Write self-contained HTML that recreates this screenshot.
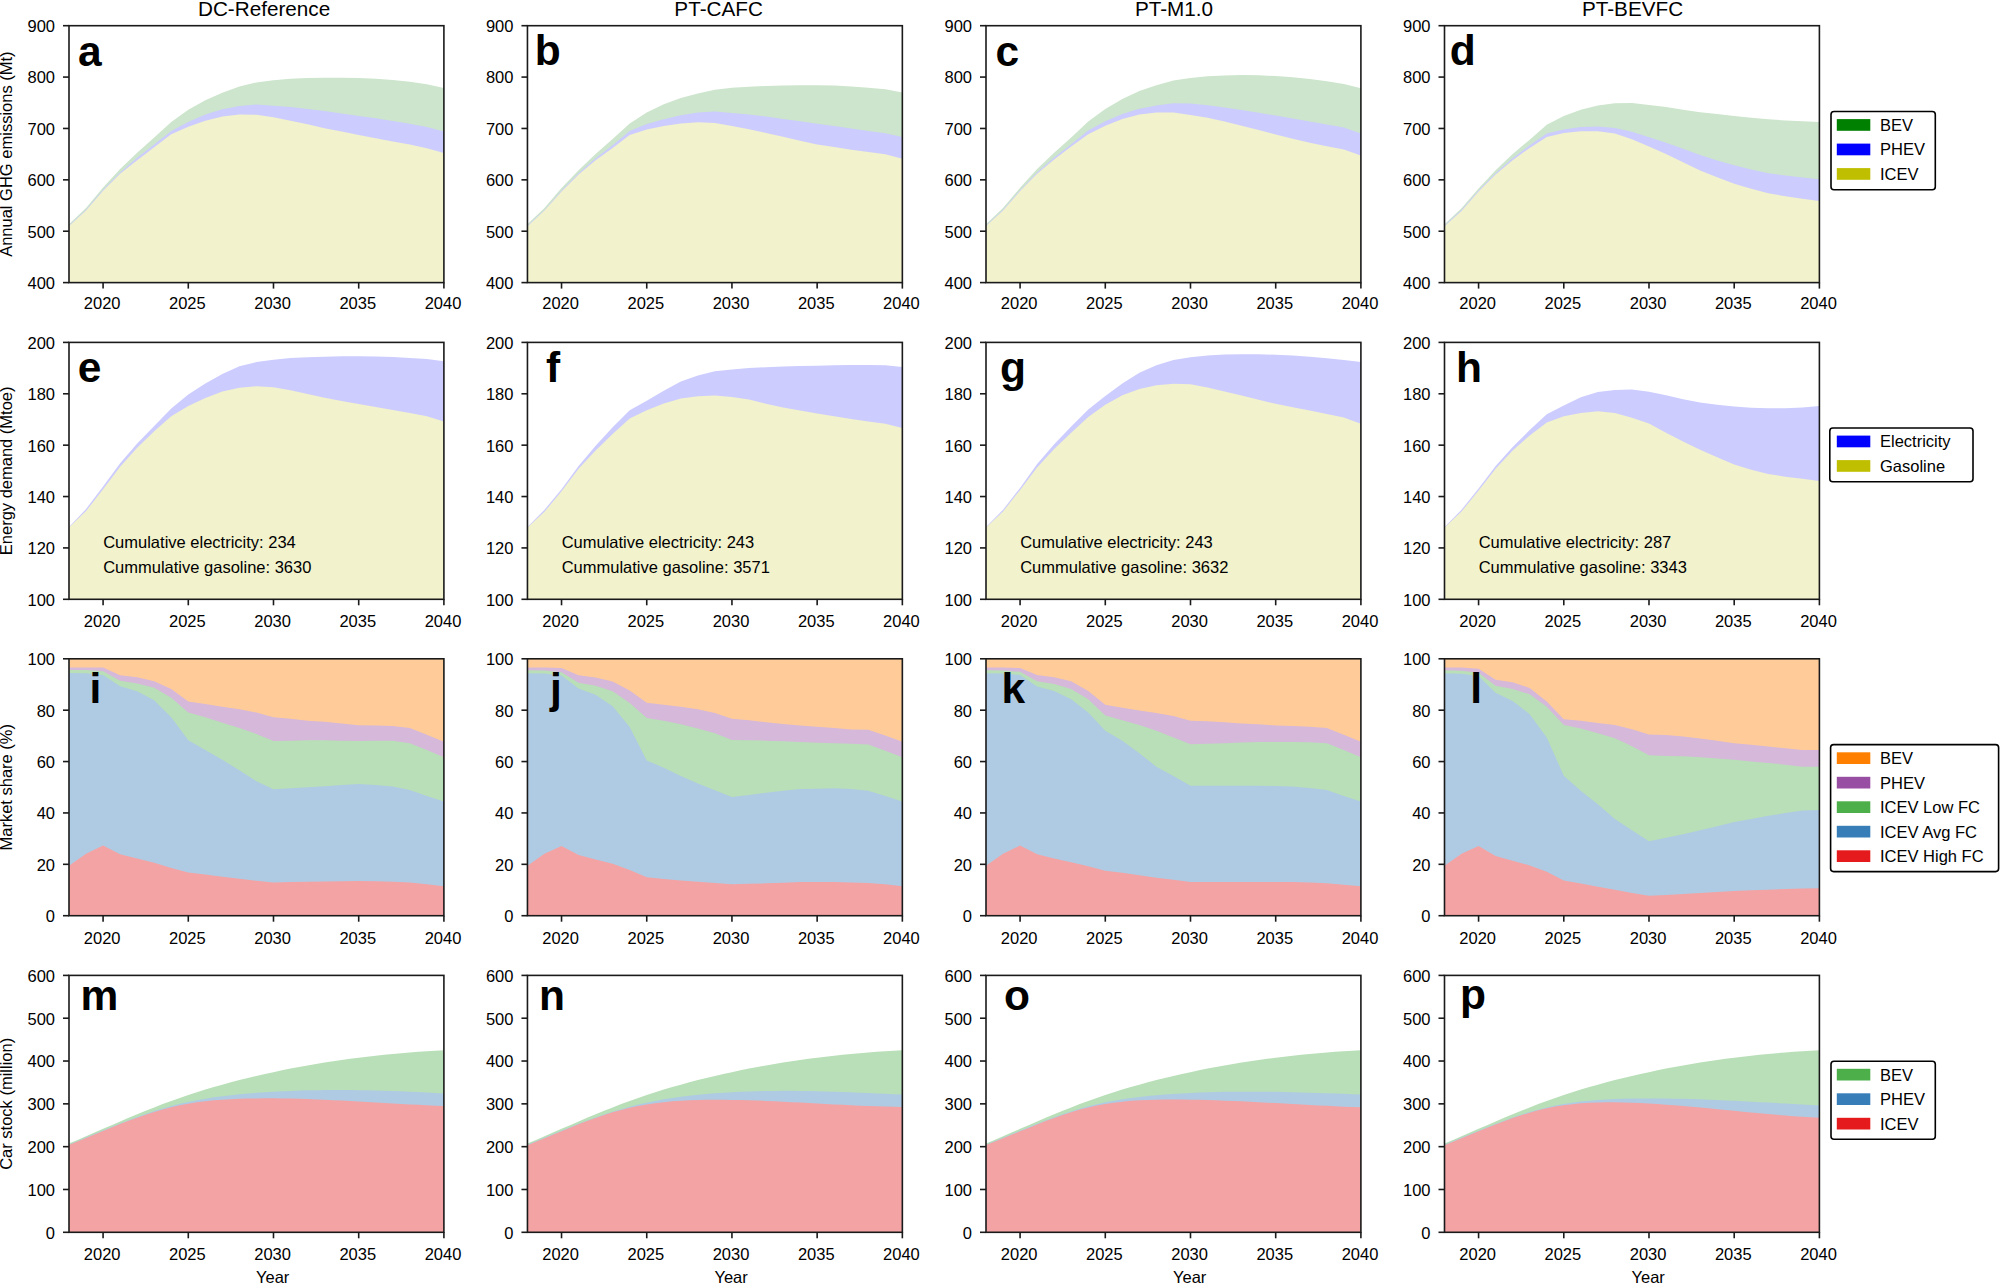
<!DOCTYPE html><html><head><meta charset="utf-8"><title>Figure</title><style>html,body{margin:0;padding:0;background:#fff;overflow:hidden;width:2000px;height:1284px;}svg{display:block;}text{font-family:'Liberation Sans', Arial, Helvetica, sans-serif;}</style></head><body>
<svg width="2000" height="1284" viewBox="0 0 2000 1284">
<rect width="2000" height="1284" fill="#fff"/>
<path d="M69,224.24 L86.04,207.88 L103.08,187.44 L120.12,169.04 L137.16,152.68 L154.2,137.42 L171.25,122.02 L188.29,109.75 L205.33,100.21 L222.37,92.71 L239.41,86.58 L256.45,82.49 L273.49,80.17 L290.53,78.81 L307.57,77.99 L324.61,77.72 L341.65,77.72 L358.7,77.99 L375.74,78.81 L392.78,80.04 L409.82,81.81 L426.86,84.26 L443.9,87.94 L443.9,282.6 L69,282.6 Z" fill="#cce5cc"/>
<path d="M69,225.6 L86.04,209.66 L103.08,189.76 L120.12,172.45 L137.16,157.86 L154.2,144.51 L171.25,130.88 L188.29,122.02 L205.33,114.52 L222.37,109.34 L239.41,106.07 L256.45,104.57 L273.49,105.66 L290.53,107.02 L307.57,109.07 L324.61,111.11 L341.65,113.43 L358.7,115.88 L375.74,118.34 L392.78,120.93 L409.82,123.79 L426.86,127.06 L443.9,131.56 L443.9,282.6 L69,282.6 Z" fill="#ccccff"/>
<path d="M69,226.01 L86.04,210.61 L103.08,190.85 L120.12,173.81 L137.16,160.18 L154.2,147.23 L171.25,134.28 L188.29,126.79 L205.33,120.65 L222.37,116.56 L239.41,114.52 L256.45,114.66 L273.49,117.25 L290.53,120.65 L307.57,124.33 L324.61,128.15 L341.65,131.56 L358.7,134.96 L375.74,138.37 L392.78,141.51 L409.82,144.51 L426.86,148.32 L443.9,153.09 L443.9,282.6 L69,282.6 Z" fill="#f2f2cc"/>
<rect x="69" y="25.7" width="374.9" height="256.9" fill="none" stroke="#1a1a1a" stroke-width="1.6"/>
<line x1="63" y1="282.6" x2="69" y2="282.6" stroke="#1a1a1a" stroke-width="1.6"/>
<text x="55" y="289" font-size="16.5" text-anchor="end">400</text>
<line x1="63" y1="231.22" x2="69" y2="231.22" stroke="#1a1a1a" stroke-width="1.6"/>
<text x="55" y="237.62" font-size="16.5" text-anchor="end">500</text>
<line x1="63" y1="179.84" x2="69" y2="179.84" stroke="#1a1a1a" stroke-width="1.6"/>
<text x="55" y="186.24" font-size="16.5" text-anchor="end">600</text>
<line x1="63" y1="128.46" x2="69" y2="128.46" stroke="#1a1a1a" stroke-width="1.6"/>
<text x="55" y="134.86" font-size="16.5" text-anchor="end">700</text>
<line x1="63" y1="77.08" x2="69" y2="77.08" stroke="#1a1a1a" stroke-width="1.6"/>
<text x="55" y="83.48" font-size="16.5" text-anchor="end">800</text>
<line x1="63" y1="25.7" x2="69" y2="25.7" stroke="#1a1a1a" stroke-width="1.6"/>
<text x="55" y="32.1" font-size="16.5" text-anchor="end">900</text>
<line x1="103.08" y1="282.6" x2="103.08" y2="288.6" stroke="#1a1a1a" stroke-width="1.6"/>
<text x="102.18" y="308.9" font-size="16.5" text-anchor="middle">2020</text>
<line x1="188.29" y1="282.6" x2="188.29" y2="288.6" stroke="#1a1a1a" stroke-width="1.6"/>
<text x="187.39" y="308.9" font-size="16.5" text-anchor="middle">2025</text>
<line x1="273.49" y1="282.6" x2="273.49" y2="288.6" stroke="#1a1a1a" stroke-width="1.6"/>
<text x="272.59" y="308.9" font-size="16.5" text-anchor="middle">2030</text>
<line x1="358.7" y1="282.6" x2="358.7" y2="288.6" stroke="#1a1a1a" stroke-width="1.6"/>
<text x="357.8" y="308.9" font-size="16.5" text-anchor="middle">2035</text>
<line x1="443.9" y1="282.6" x2="443.9" y2="288.6" stroke="#1a1a1a" stroke-width="1.6"/>
<text x="443" y="308.9" font-size="16.5" text-anchor="middle">2040</text>
<text x="78" y="65.5" font-size="42.5" font-weight="bold">a</text>
<path d="M527.45,224.24 L544.49,207.88 L561.53,188.12 L578.57,170.13 L595.61,154.05 L612.65,139.05 L629.7,123.38 L646.74,112.47 L663.78,104.3 L680.82,97.89 L697.86,93.39 L714.9,89.71 L731.94,87.67 L748.98,86.71 L766.02,86.03 L783.06,85.62 L800.1,85.35 L817.15,85.22 L834.19,85.62 L851.23,86.58 L868.27,87.67 L885.31,89.3 L902.35,92.44 L902.35,282.6 L527.45,282.6 Z" fill="#cce5cc"/>
<path d="M527.45,225.6 L544.49,209.93 L561.53,190.57 L578.57,173.13 L595.61,158.13 L612.65,145.19 L629.7,130.88 L646.74,124.06 L663.78,119.29 L680.82,115.2 L697.86,112.47 L714.9,111.52 L731.94,112.88 L748.98,114.38 L766.02,116.56 L783.06,118.88 L800.1,121.33 L817.15,123.65 L834.19,126.1 L851.23,128.42 L868.27,130.88 L885.31,133.33 L902.35,137.01 L902.35,282.6 L527.45,282.6 Z" fill="#ccccff"/>
<path d="M527.45,226.28 L544.49,210.61 L561.53,191.53 L578.57,174.49 L595.61,160.18 L612.65,147.91 L629.7,134.96 L646.74,129.51 L663.78,126.1 L680.82,123.38 L697.86,122.29 L714.9,122.97 L731.94,126.1 L748.98,129.24 L766.02,132.92 L783.06,136.74 L800.1,140.69 L817.15,144.51 L834.19,146.96 L851.23,149.68 L868.27,152 L885.31,154.32 L902.35,158.82 L902.35,282.6 L527.45,282.6 Z" fill="#f2f2cc"/>
<rect x="527.45" y="25.7" width="374.9" height="256.9" fill="none" stroke="#1a1a1a" stroke-width="1.6"/>
<line x1="521.45" y1="282.6" x2="527.45" y2="282.6" stroke="#1a1a1a" stroke-width="1.6"/>
<text x="513.45" y="289" font-size="16.5" text-anchor="end">400</text>
<line x1="521.45" y1="231.22" x2="527.45" y2="231.22" stroke="#1a1a1a" stroke-width="1.6"/>
<text x="513.45" y="237.62" font-size="16.5" text-anchor="end">500</text>
<line x1="521.45" y1="179.84" x2="527.45" y2="179.84" stroke="#1a1a1a" stroke-width="1.6"/>
<text x="513.45" y="186.24" font-size="16.5" text-anchor="end">600</text>
<line x1="521.45" y1="128.46" x2="527.45" y2="128.46" stroke="#1a1a1a" stroke-width="1.6"/>
<text x="513.45" y="134.86" font-size="16.5" text-anchor="end">700</text>
<line x1="521.45" y1="77.08" x2="527.45" y2="77.08" stroke="#1a1a1a" stroke-width="1.6"/>
<text x="513.45" y="83.48" font-size="16.5" text-anchor="end">800</text>
<line x1="521.45" y1="25.7" x2="527.45" y2="25.7" stroke="#1a1a1a" stroke-width="1.6"/>
<text x="513.45" y="32.1" font-size="16.5" text-anchor="end">900</text>
<line x1="561.53" y1="282.6" x2="561.53" y2="288.6" stroke="#1a1a1a" stroke-width="1.6"/>
<text x="560.63" y="308.9" font-size="16.5" text-anchor="middle">2020</text>
<line x1="646.74" y1="282.6" x2="646.74" y2="288.6" stroke="#1a1a1a" stroke-width="1.6"/>
<text x="645.84" y="308.9" font-size="16.5" text-anchor="middle">2025</text>
<line x1="731.94" y1="282.6" x2="731.94" y2="288.6" stroke="#1a1a1a" stroke-width="1.6"/>
<text x="731.04" y="308.9" font-size="16.5" text-anchor="middle">2030</text>
<line x1="817.15" y1="282.6" x2="817.15" y2="288.6" stroke="#1a1a1a" stroke-width="1.6"/>
<text x="816.25" y="308.9" font-size="16.5" text-anchor="middle">2035</text>
<line x1="902.35" y1="282.6" x2="902.35" y2="288.6" stroke="#1a1a1a" stroke-width="1.6"/>
<text x="901.45" y="308.9" font-size="16.5" text-anchor="middle">2040</text>
<text x="534.65" y="65.4" font-size="42.5" font-weight="bold">b</text>
<path d="M986,224.24 L1003.04,207.88 L1020.08,187.85 L1037.12,169.04 L1054.16,152.68 L1071.2,137.42 L1088.25,121.61 L1105.29,109.07 L1122.33,99.12 L1139.37,91.08 L1156.41,85.22 L1173.45,80.44 L1190.49,77.99 L1207.53,76.36 L1224.57,75.54 L1241.61,74.99 L1258.65,75.27 L1275.7,76.08 L1292.74,77.31 L1309.78,79.08 L1326.82,81.13 L1343.86,84.12 L1360.9,88.35 L1360.9,282.6 L986,282.6 Z" fill="#cce5cc"/>
<path d="M986,225.6 L1003.04,209.66 L1020.08,190.16 L1037.12,172.45 L1054.16,157.45 L1071.2,144.23 L1088.25,130.6 L1105.29,121.33 L1122.33,114.11 L1139.37,108.79 L1156.41,105.39 L1173.45,103.34 L1190.49,103.62 L1207.53,105.25 L1224.57,107.43 L1241.61,110.02 L1258.65,112.75 L1275.7,115.61 L1292.74,118.61 L1309.78,121.61 L1326.82,124.47 L1343.86,127.6 L1360.9,133.6 L1360.9,282.6 L986,282.6 Z" fill="#ccccff"/>
<path d="M986,226.01 L1003.04,210.61 L1020.08,191.12 L1037.12,173.81 L1054.16,159.5 L1071.2,146.55 L1088.25,134.28 L1105.29,125.7 L1122.33,118.88 L1139.37,114.52 L1156.41,112.47 L1173.45,112.61 L1190.49,114.93 L1207.53,117.65 L1224.57,121.61 L1241.61,125.7 L1258.65,129.92 L1275.7,134.42 L1292.74,138.64 L1309.78,142.87 L1326.82,146.14 L1343.86,149.55 L1360.9,155.41 L1360.9,282.6 L986,282.6 Z" fill="#f2f2cc"/>
<rect x="986" y="25.7" width="374.9" height="256.9" fill="none" stroke="#1a1a1a" stroke-width="1.6"/>
<line x1="980" y1="282.6" x2="986" y2="282.6" stroke="#1a1a1a" stroke-width="1.6"/>
<text x="972" y="289" font-size="16.5" text-anchor="end">400</text>
<line x1="980" y1="231.22" x2="986" y2="231.22" stroke="#1a1a1a" stroke-width="1.6"/>
<text x="972" y="237.62" font-size="16.5" text-anchor="end">500</text>
<line x1="980" y1="179.84" x2="986" y2="179.84" stroke="#1a1a1a" stroke-width="1.6"/>
<text x="972" y="186.24" font-size="16.5" text-anchor="end">600</text>
<line x1="980" y1="128.46" x2="986" y2="128.46" stroke="#1a1a1a" stroke-width="1.6"/>
<text x="972" y="134.86" font-size="16.5" text-anchor="end">700</text>
<line x1="980" y1="77.08" x2="986" y2="77.08" stroke="#1a1a1a" stroke-width="1.6"/>
<text x="972" y="83.48" font-size="16.5" text-anchor="end">800</text>
<line x1="980" y1="25.7" x2="986" y2="25.7" stroke="#1a1a1a" stroke-width="1.6"/>
<text x="972" y="32.1" font-size="16.5" text-anchor="end">900</text>
<line x1="1020.08" y1="282.6" x2="1020.08" y2="288.6" stroke="#1a1a1a" stroke-width="1.6"/>
<text x="1019.18" y="308.9" font-size="16.5" text-anchor="middle">2020</text>
<line x1="1105.29" y1="282.6" x2="1105.29" y2="288.6" stroke="#1a1a1a" stroke-width="1.6"/>
<text x="1104.39" y="308.9" font-size="16.5" text-anchor="middle">2025</text>
<line x1="1190.49" y1="282.6" x2="1190.49" y2="288.6" stroke="#1a1a1a" stroke-width="1.6"/>
<text x="1189.59" y="308.9" font-size="16.5" text-anchor="middle">2030</text>
<line x1="1275.7" y1="282.6" x2="1275.7" y2="288.6" stroke="#1a1a1a" stroke-width="1.6"/>
<text x="1274.8" y="308.9" font-size="16.5" text-anchor="middle">2035</text>
<line x1="1360.9" y1="282.6" x2="1360.9" y2="288.6" stroke="#1a1a1a" stroke-width="1.6"/>
<text x="1360" y="308.9" font-size="16.5" text-anchor="middle">2040</text>
<text x="995.5" y="65.7" font-size="42.5" font-weight="bold">c</text>
<path d="M1444.5,224.24 L1461.54,208.29 L1478.58,188.39 L1495.62,170.13 L1512.66,154.05 L1529.7,139.73 L1546.75,124.74 L1563.79,115.88 L1580.83,109.75 L1597.87,105.39 L1614.91,103.34 L1631.95,103.07 L1648.99,104.98 L1666.03,107.02 L1683.07,109.75 L1700.11,112.2 L1717.15,114.11 L1734.2,115.88 L1751.24,117.65 L1768.28,119.29 L1785.32,120.38 L1802.36,121.33 L1819.4,122.02 L1819.4,282.6 L1444.5,282.6 Z" fill="#cce5cc"/>
<path d="M1444.5,225.6 L1461.54,209.93 L1478.58,190.57 L1495.62,173.13 L1512.66,158.13 L1529.7,145.19 L1546.75,133.6 L1563.79,129.51 L1580.83,127.06 L1597.87,126.51 L1614.91,127.88 L1631.95,131.69 L1648.99,137.28 L1666.03,142.73 L1683.07,148.87 L1700.11,155 L1717.15,160.59 L1734.2,165.22 L1751.24,169.45 L1768.28,173.26 L1785.32,175.44 L1802.36,177.49 L1819.4,179.26 L1819.4,282.6 L1444.5,282.6 Z" fill="#ccccff"/>
<path d="M1444.5,226.28 L1461.54,211.02 L1478.58,191.53 L1495.62,174.49 L1512.66,160.18 L1529.7,147.91 L1546.75,137.01 L1563.79,132.92 L1580.83,131.15 L1597.87,131.15 L1614.91,133.6 L1631.95,139.33 L1648.99,146.55 L1666.03,154.05 L1683.07,162.22 L1700.11,170.4 L1717.15,177.22 L1734.2,183.76 L1751.24,188.8 L1768.28,193.3 L1785.32,196.3 L1802.36,198.75 L1819.4,201.07 L1819.4,282.6 L1444.5,282.6 Z" fill="#f2f2cc"/>
<rect x="1444.5" y="25.7" width="374.9" height="256.9" fill="none" stroke="#1a1a1a" stroke-width="1.6"/>
<line x1="1438.5" y1="282.6" x2="1444.5" y2="282.6" stroke="#1a1a1a" stroke-width="1.6"/>
<text x="1430.5" y="289" font-size="16.5" text-anchor="end">400</text>
<line x1="1438.5" y1="231.22" x2="1444.5" y2="231.22" stroke="#1a1a1a" stroke-width="1.6"/>
<text x="1430.5" y="237.62" font-size="16.5" text-anchor="end">500</text>
<line x1="1438.5" y1="179.84" x2="1444.5" y2="179.84" stroke="#1a1a1a" stroke-width="1.6"/>
<text x="1430.5" y="186.24" font-size="16.5" text-anchor="end">600</text>
<line x1="1438.5" y1="128.46" x2="1444.5" y2="128.46" stroke="#1a1a1a" stroke-width="1.6"/>
<text x="1430.5" y="134.86" font-size="16.5" text-anchor="end">700</text>
<line x1="1438.5" y1="77.08" x2="1444.5" y2="77.08" stroke="#1a1a1a" stroke-width="1.6"/>
<text x="1430.5" y="83.48" font-size="16.5" text-anchor="end">800</text>
<line x1="1438.5" y1="25.7" x2="1444.5" y2="25.7" stroke="#1a1a1a" stroke-width="1.6"/>
<text x="1430.5" y="32.1" font-size="16.5" text-anchor="end">900</text>
<line x1="1478.58" y1="282.6" x2="1478.58" y2="288.6" stroke="#1a1a1a" stroke-width="1.6"/>
<text x="1477.68" y="308.9" font-size="16.5" text-anchor="middle">2020</text>
<line x1="1563.79" y1="282.6" x2="1563.79" y2="288.6" stroke="#1a1a1a" stroke-width="1.6"/>
<text x="1562.89" y="308.9" font-size="16.5" text-anchor="middle">2025</text>
<line x1="1648.99" y1="282.6" x2="1648.99" y2="288.6" stroke="#1a1a1a" stroke-width="1.6"/>
<text x="1648.09" y="308.9" font-size="16.5" text-anchor="middle">2030</text>
<line x1="1734.2" y1="282.6" x2="1734.2" y2="288.6" stroke="#1a1a1a" stroke-width="1.6"/>
<text x="1733.3" y="308.9" font-size="16.5" text-anchor="middle">2035</text>
<line x1="1819.4" y1="282.6" x2="1819.4" y2="288.6" stroke="#1a1a1a" stroke-width="1.6"/>
<text x="1818.5" y="308.9" font-size="16.5" text-anchor="middle">2040</text>
<text x="1449.7" y="65.2" font-size="42.5" font-weight="bold">d</text>
<text transform="translate(11.9,154.15) rotate(-90)" font-size="16.5" text-anchor="middle">Annual GHG emissions (Mt)</text>
<path d="M69,527.01 L86.04,509.02 L103.08,486.53 L120.12,463.36 L137.16,443.59 L154.2,425.88 L171.25,408.43 L188.29,394.53 L205.33,383.62 L222.37,374.08 L239.41,366.18 L256.45,362.09 L273.49,359.77 L290.53,358 L307.57,357.18 L324.61,356.64 L341.65,356.36 L358.7,356.36 L375.74,356.5 L392.78,357.04 L409.82,358 L426.86,359.09 L443.9,361.13 L443.9,599.3 L69,599.3 Z" fill="#ccccff"/>
<path d="M69,527.42 L86.04,511.06 L103.08,489.25 L120.12,466.76 L137.16,447.68 L154.2,431.33 L171.25,416.33 L188.29,406.11 L205.33,397.93 L222.37,391.53 L239.41,387.71 L256.45,386.21 L273.49,387.17 L290.53,390.16 L307.57,393.98 L324.61,397.66 L341.65,401.07 L358.7,404.07 L375.74,407.07 L392.78,410.06 L409.82,412.93 L426.86,416.33 L443.9,421.51 L443.9,599.3 L69,599.3 Z" fill="#f2f2cc"/>
<rect x="69" y="342.4" width="374.9" height="256.9" fill="none" stroke="#1a1a1a" stroke-width="1.6"/>
<line x1="63" y1="599.3" x2="69" y2="599.3" stroke="#1a1a1a" stroke-width="1.6"/>
<text x="55" y="605.7" font-size="16.5" text-anchor="end">100</text>
<line x1="63" y1="547.92" x2="69" y2="547.92" stroke="#1a1a1a" stroke-width="1.6"/>
<text x="55" y="554.32" font-size="16.5" text-anchor="end">120</text>
<line x1="63" y1="496.54" x2="69" y2="496.54" stroke="#1a1a1a" stroke-width="1.6"/>
<text x="55" y="502.94" font-size="16.5" text-anchor="end">140</text>
<line x1="63" y1="445.16" x2="69" y2="445.16" stroke="#1a1a1a" stroke-width="1.6"/>
<text x="55" y="451.56" font-size="16.5" text-anchor="end">160</text>
<line x1="63" y1="393.78" x2="69" y2="393.78" stroke="#1a1a1a" stroke-width="1.6"/>
<text x="55" y="400.18" font-size="16.5" text-anchor="end">180</text>
<line x1="63" y1="342.4" x2="69" y2="342.4" stroke="#1a1a1a" stroke-width="1.6"/>
<text x="55" y="348.8" font-size="16.5" text-anchor="end">200</text>
<line x1="103.08" y1="599.3" x2="103.08" y2="605.3" stroke="#1a1a1a" stroke-width="1.6"/>
<text x="102.18" y="627" font-size="16.5" text-anchor="middle">2020</text>
<line x1="188.29" y1="599.3" x2="188.29" y2="605.3" stroke="#1a1a1a" stroke-width="1.6"/>
<text x="187.39" y="627" font-size="16.5" text-anchor="middle">2025</text>
<line x1="273.49" y1="599.3" x2="273.49" y2="605.3" stroke="#1a1a1a" stroke-width="1.6"/>
<text x="272.59" y="627" font-size="16.5" text-anchor="middle">2030</text>
<line x1="358.7" y1="599.3" x2="358.7" y2="605.3" stroke="#1a1a1a" stroke-width="1.6"/>
<text x="357.8" y="627" font-size="16.5" text-anchor="middle">2035</text>
<line x1="443.9" y1="599.3" x2="443.9" y2="605.3" stroke="#1a1a1a" stroke-width="1.6"/>
<text x="443" y="627" font-size="16.5" text-anchor="middle">2040</text>
<text x="77.8" y="382.2" font-size="42.5" font-weight="bold">e</text>
<path d="M527.45,527.01 L544.49,509.7 L561.53,489.25 L578.57,466.08 L595.61,445.64 L612.65,427.24 L629.7,410.2 L646.74,400.66 L663.78,390.71 L680.82,381.58 L697.86,375.44 L714.9,371.36 L731.94,369.45 L748.98,368.08 L766.02,367.27 L783.06,366.59 L800.1,366.04 L817.15,365.63 L834.19,365.22 L851.23,364.95 L868.27,364.95 L885.31,365.22 L902.35,366.99 L902.35,599.3 L527.45,599.3 Z" fill="#ccccff"/>
<path d="M527.45,527.42 L544.49,511.74 L561.53,491.3 L578.57,468.81 L595.61,450.41 L612.65,434.05 L629.7,418.38 L646.74,410.2 L663.78,403.39 L680.82,398.62 L697.86,396.16 L714.9,395.62 L731.94,396.98 L748.98,399.57 L766.02,403.79 L783.06,407.47 L800.1,410.61 L817.15,413.61 L834.19,416.33 L851.23,419.06 L868.27,421.51 L885.31,423.83 L902.35,427.92 L902.35,599.3 L527.45,599.3 Z" fill="#f2f2cc"/>
<rect x="527.45" y="342.4" width="374.9" height="256.9" fill="none" stroke="#1a1a1a" stroke-width="1.6"/>
<line x1="521.45" y1="599.3" x2="527.45" y2="599.3" stroke="#1a1a1a" stroke-width="1.6"/>
<text x="513.45" y="605.7" font-size="16.5" text-anchor="end">100</text>
<line x1="521.45" y1="547.92" x2="527.45" y2="547.92" stroke="#1a1a1a" stroke-width="1.6"/>
<text x="513.45" y="554.32" font-size="16.5" text-anchor="end">120</text>
<line x1="521.45" y1="496.54" x2="527.45" y2="496.54" stroke="#1a1a1a" stroke-width="1.6"/>
<text x="513.45" y="502.94" font-size="16.5" text-anchor="end">140</text>
<line x1="521.45" y1="445.16" x2="527.45" y2="445.16" stroke="#1a1a1a" stroke-width="1.6"/>
<text x="513.45" y="451.56" font-size="16.5" text-anchor="end">160</text>
<line x1="521.45" y1="393.78" x2="527.45" y2="393.78" stroke="#1a1a1a" stroke-width="1.6"/>
<text x="513.45" y="400.18" font-size="16.5" text-anchor="end">180</text>
<line x1="521.45" y1="342.4" x2="527.45" y2="342.4" stroke="#1a1a1a" stroke-width="1.6"/>
<text x="513.45" y="348.8" font-size="16.5" text-anchor="end">200</text>
<line x1="561.53" y1="599.3" x2="561.53" y2="605.3" stroke="#1a1a1a" stroke-width="1.6"/>
<text x="560.63" y="627" font-size="16.5" text-anchor="middle">2020</text>
<line x1="646.74" y1="599.3" x2="646.74" y2="605.3" stroke="#1a1a1a" stroke-width="1.6"/>
<text x="645.84" y="627" font-size="16.5" text-anchor="middle">2025</text>
<line x1="731.94" y1="599.3" x2="731.94" y2="605.3" stroke="#1a1a1a" stroke-width="1.6"/>
<text x="731.04" y="627" font-size="16.5" text-anchor="middle">2030</text>
<line x1="817.15" y1="599.3" x2="817.15" y2="605.3" stroke="#1a1a1a" stroke-width="1.6"/>
<text x="816.25" y="627" font-size="16.5" text-anchor="middle">2035</text>
<line x1="902.35" y1="599.3" x2="902.35" y2="605.3" stroke="#1a1a1a" stroke-width="1.6"/>
<text x="901.45" y="627" font-size="16.5" text-anchor="middle">2040</text>
<text x="546.05" y="381.7" font-size="42.5" font-weight="bold">f</text>
<path d="M986,527.01 L1003.04,509.7 L1020.08,487.89 L1037.12,464.04 L1054.16,444.28 L1071.2,426.56 L1088.25,409.52 L1105.29,395.89 L1122.33,383.62 L1139.37,372.72 L1156.41,365.22 L1173.45,359.91 L1190.49,357.18 L1207.53,355.55 L1224.57,354.45 L1241.61,354.18 L1258.65,354.32 L1275.7,354.73 L1292.74,355.55 L1309.78,356.77 L1326.82,358.27 L1343.86,359.91 L1360.9,362.09 L1360.9,599.3 L986,599.3 Z" fill="#ccccff"/>
<path d="M986,527.42 L1003.04,511.47 L1020.08,489.94 L1037.12,467.45 L1054.16,449.05 L1071.2,432.69 L1088.25,417.02 L1105.29,404.75 L1122.33,395.21 L1139.37,389.07 L1156.41,385.26 L1173.45,383.76 L1190.49,384.3 L1207.53,387.44 L1224.57,391.39 L1241.61,395.48 L1258.65,399.71 L1275.7,403.79 L1292.74,407.34 L1309.78,410.61 L1326.82,413.88 L1343.86,417.42 L1360.9,423.83 L1360.9,599.3 L986,599.3 Z" fill="#f2f2cc"/>
<rect x="986" y="342.4" width="374.9" height="256.9" fill="none" stroke="#1a1a1a" stroke-width="1.6"/>
<line x1="980" y1="599.3" x2="986" y2="599.3" stroke="#1a1a1a" stroke-width="1.6"/>
<text x="972" y="605.7" font-size="16.5" text-anchor="end">100</text>
<line x1="980" y1="547.92" x2="986" y2="547.92" stroke="#1a1a1a" stroke-width="1.6"/>
<text x="972" y="554.32" font-size="16.5" text-anchor="end">120</text>
<line x1="980" y1="496.54" x2="986" y2="496.54" stroke="#1a1a1a" stroke-width="1.6"/>
<text x="972" y="502.94" font-size="16.5" text-anchor="end">140</text>
<line x1="980" y1="445.16" x2="986" y2="445.16" stroke="#1a1a1a" stroke-width="1.6"/>
<text x="972" y="451.56" font-size="16.5" text-anchor="end">160</text>
<line x1="980" y1="393.78" x2="986" y2="393.78" stroke="#1a1a1a" stroke-width="1.6"/>
<text x="972" y="400.18" font-size="16.5" text-anchor="end">180</text>
<line x1="980" y1="342.4" x2="986" y2="342.4" stroke="#1a1a1a" stroke-width="1.6"/>
<text x="972" y="348.8" font-size="16.5" text-anchor="end">200</text>
<line x1="1020.08" y1="599.3" x2="1020.08" y2="605.3" stroke="#1a1a1a" stroke-width="1.6"/>
<text x="1019.18" y="627" font-size="16.5" text-anchor="middle">2020</text>
<line x1="1105.29" y1="599.3" x2="1105.29" y2="605.3" stroke="#1a1a1a" stroke-width="1.6"/>
<text x="1104.39" y="627" font-size="16.5" text-anchor="middle">2025</text>
<line x1="1190.49" y1="599.3" x2="1190.49" y2="605.3" stroke="#1a1a1a" stroke-width="1.6"/>
<text x="1189.59" y="627" font-size="16.5" text-anchor="middle">2030</text>
<line x1="1275.7" y1="599.3" x2="1275.7" y2="605.3" stroke="#1a1a1a" stroke-width="1.6"/>
<text x="1274.8" y="627" font-size="16.5" text-anchor="middle">2035</text>
<line x1="1360.9" y1="599.3" x2="1360.9" y2="605.3" stroke="#1a1a1a" stroke-width="1.6"/>
<text x="1360" y="627" font-size="16.5" text-anchor="middle">2040</text>
<text x="999.9" y="381.8" font-size="42.5" font-weight="bold">g</text>
<path d="M1444.5,527.01 L1461.54,509.7 L1478.58,488.57 L1495.62,466.08 L1512.66,447 L1529.7,429.96 L1546.75,414.29 L1563.79,405.43 L1580.83,397.25 L1597.87,392.07 L1614.91,389.89 L1631.95,389.62 L1648.99,391.8 L1666.03,395.34 L1683.07,399.3 L1700.11,402.43 L1717.15,404.75 L1734.2,406.52 L1751.24,407.75 L1768.28,408.16 L1785.32,408.16 L1802.36,407.47 L1819.4,406.11 L1819.4,599.3 L1444.5,599.3 Z" fill="#ccccff"/>
<path d="M1444.5,527.42 L1461.54,511.47 L1478.58,490.62 L1495.62,468.81 L1512.66,450.41 L1529.7,435.42 L1546.75,422.47 L1563.79,416.33 L1580.83,412.93 L1597.87,411.15 L1614.91,412.93 L1631.95,417.7 L1648.99,423.56 L1666.03,432.69 L1683.07,441.55 L1700.11,449.73 L1717.15,457.22 L1734.2,464.45 L1751.24,469.76 L1768.28,473.99 L1785.32,476.71 L1802.36,478.76 L1819.4,481.08 L1819.4,599.3 L1444.5,599.3 Z" fill="#f2f2cc"/>
<rect x="1444.5" y="342.4" width="374.9" height="256.9" fill="none" stroke="#1a1a1a" stroke-width="1.6"/>
<line x1="1438.5" y1="599.3" x2="1444.5" y2="599.3" stroke="#1a1a1a" stroke-width="1.6"/>
<text x="1430.5" y="605.7" font-size="16.5" text-anchor="end">100</text>
<line x1="1438.5" y1="547.92" x2="1444.5" y2="547.92" stroke="#1a1a1a" stroke-width="1.6"/>
<text x="1430.5" y="554.32" font-size="16.5" text-anchor="end">120</text>
<line x1="1438.5" y1="496.54" x2="1444.5" y2="496.54" stroke="#1a1a1a" stroke-width="1.6"/>
<text x="1430.5" y="502.94" font-size="16.5" text-anchor="end">140</text>
<line x1="1438.5" y1="445.16" x2="1444.5" y2="445.16" stroke="#1a1a1a" stroke-width="1.6"/>
<text x="1430.5" y="451.56" font-size="16.5" text-anchor="end">160</text>
<line x1="1438.5" y1="393.78" x2="1444.5" y2="393.78" stroke="#1a1a1a" stroke-width="1.6"/>
<text x="1430.5" y="400.18" font-size="16.5" text-anchor="end">180</text>
<line x1="1438.5" y1="342.4" x2="1444.5" y2="342.4" stroke="#1a1a1a" stroke-width="1.6"/>
<text x="1430.5" y="348.8" font-size="16.5" text-anchor="end">200</text>
<line x1="1478.58" y1="599.3" x2="1478.58" y2="605.3" stroke="#1a1a1a" stroke-width="1.6"/>
<text x="1477.68" y="627" font-size="16.5" text-anchor="middle">2020</text>
<line x1="1563.79" y1="599.3" x2="1563.79" y2="605.3" stroke="#1a1a1a" stroke-width="1.6"/>
<text x="1562.89" y="627" font-size="16.5" text-anchor="middle">2025</text>
<line x1="1648.99" y1="599.3" x2="1648.99" y2="605.3" stroke="#1a1a1a" stroke-width="1.6"/>
<text x="1648.09" y="627" font-size="16.5" text-anchor="middle">2030</text>
<line x1="1734.2" y1="599.3" x2="1734.2" y2="605.3" stroke="#1a1a1a" stroke-width="1.6"/>
<text x="1733.3" y="627" font-size="16.5" text-anchor="middle">2035</text>
<line x1="1819.4" y1="599.3" x2="1819.4" y2="605.3" stroke="#1a1a1a" stroke-width="1.6"/>
<text x="1818.5" y="627" font-size="16.5" text-anchor="middle">2040</text>
<text x="1456" y="381.7" font-size="42.5" font-weight="bold">h</text>
<text transform="translate(11.9,470.85) rotate(-90)" font-size="16.5" text-anchor="middle">Energy demand (Mtoe)</text>
<path d="M69,658.8 L86.04,658.8 L103.08,658.8 L120.12,658.8 L137.16,658.8 L154.2,658.8 L171.25,658.8 L188.29,658.8 L205.33,658.8 L222.37,658.8 L239.41,658.8 L256.45,658.8 L273.49,658.8 L290.53,658.8 L307.57,658.8 L324.61,658.8 L341.65,658.8 L358.7,658.8 L375.74,658.8 L392.78,658.8 L409.82,658.8 L426.86,658.8 L443.9,658.8 L443.9,915.7 L69,915.7 Z" fill="#ffcc99"/>
<path d="M69,667.4 L86.04,667.4 L103.08,667.4 L120.12,675.33 L137.16,677.21 L154.2,681.17 L171.25,688.89 L188.29,701.62 L205.33,704.12 L222.37,706.84 L239.41,709.34 L256.45,712.47 L273.49,717.27 L290.53,718.73 L307.57,720.82 L324.61,721.86 L341.65,723.53 L358.7,725.2 L375.74,725.62 L392.78,726.04 L409.82,728.12 L426.86,734.8 L443.9,741.69 L443.9,915.7 L69,915.7 Z" fill="#d6b8da"/>
<path d="M69,669.9 L86.04,670.11 L103.08,671.36 L120.12,680.75 L137.16,683.47 L154.2,687.85 L171.25,697.66 L188.29,712.47 L205.33,717.27 L222.37,722.7 L239.41,728.12 L256.45,733.96 L273.49,741.06 L290.53,740.64 L307.57,740.22 L324.61,740.22 L341.65,740.64 L358.7,741.06 L375.74,740.85 L392.78,740.64 L409.82,743.15 L426.86,750.03 L443.9,757.34 L443.9,915.7 L69,915.7 Z" fill="#b8dfb7"/>
<path d="M69,673.03 L86.04,673.24 L103.08,674.91 L120.12,686.18 L137.16,691.19 L154.2,700.37 L171.25,717.27 L188.29,740.22 L205.33,750.03 L222.37,759.84 L239.41,770.27 L256.45,781.33 L273.49,789.26 L290.53,788.22 L307.57,787.18 L324.61,786.13 L341.65,785.09 L358.7,784.05 L375.74,784.88 L392.78,786.55 L409.82,790.1 L426.86,795.94 L443.9,801.57 L443.9,915.7 L69,915.7 Z" fill="#afcbe3"/>
<path d="M69,865.85 L86.04,853.74 L103.08,845.4 L120.12,854.37 L137.16,858.54 L154.2,862.72 L171.25,867.93 L188.29,872.52 L205.33,874.61 L222.37,876.7 L239.41,878.78 L256.45,880.87 L273.49,882.54 L290.53,882.12 L307.57,881.7 L324.61,881.5 L341.65,881.29 L358.7,881.08 L375.74,881.29 L392.78,881.7 L409.82,882.54 L426.86,884.21 L443.9,886.3 L443.9,915.7 L69,915.7 Z" fill="#f4a3a4"/>
<rect x="69" y="658.8" width="374.9" height="256.9" fill="none" stroke="#1a1a1a" stroke-width="1.6"/>
<line x1="63" y1="915.7" x2="69" y2="915.7" stroke="#1a1a1a" stroke-width="1.6"/>
<text x="55" y="922.1" font-size="16.5" text-anchor="end">0</text>
<line x1="63" y1="864.32" x2="69" y2="864.32" stroke="#1a1a1a" stroke-width="1.6"/>
<text x="55" y="870.72" font-size="16.5" text-anchor="end">20</text>
<line x1="63" y1="812.94" x2="69" y2="812.94" stroke="#1a1a1a" stroke-width="1.6"/>
<text x="55" y="819.34" font-size="16.5" text-anchor="end">40</text>
<line x1="63" y1="761.56" x2="69" y2="761.56" stroke="#1a1a1a" stroke-width="1.6"/>
<text x="55" y="767.96" font-size="16.5" text-anchor="end">60</text>
<line x1="63" y1="710.18" x2="69" y2="710.18" stroke="#1a1a1a" stroke-width="1.6"/>
<text x="55" y="716.58" font-size="16.5" text-anchor="end">80</text>
<line x1="63" y1="658.8" x2="69" y2="658.8" stroke="#1a1a1a" stroke-width="1.6"/>
<text x="55" y="665.2" font-size="16.5" text-anchor="end">100</text>
<line x1="103.08" y1="915.7" x2="103.08" y2="921.7" stroke="#1a1a1a" stroke-width="1.6"/>
<text x="102.18" y="943.8" font-size="16.5" text-anchor="middle">2020</text>
<line x1="188.29" y1="915.7" x2="188.29" y2="921.7" stroke="#1a1a1a" stroke-width="1.6"/>
<text x="187.39" y="943.8" font-size="16.5" text-anchor="middle">2025</text>
<line x1="273.49" y1="915.7" x2="273.49" y2="921.7" stroke="#1a1a1a" stroke-width="1.6"/>
<text x="272.59" y="943.8" font-size="16.5" text-anchor="middle">2030</text>
<line x1="358.7" y1="915.7" x2="358.7" y2="921.7" stroke="#1a1a1a" stroke-width="1.6"/>
<text x="357.8" y="943.8" font-size="16.5" text-anchor="middle">2035</text>
<line x1="443.9" y1="915.7" x2="443.9" y2="921.7" stroke="#1a1a1a" stroke-width="1.6"/>
<text x="443" y="943.8" font-size="16.5" text-anchor="middle">2040</text>
<text x="89.6" y="702.7" font-size="42.5" font-weight="bold">i</text>
<path d="M527.45,658.8 L544.49,658.8 L561.53,658.8 L578.57,658.8 L595.61,658.8 L612.65,658.8 L629.7,658.8 L646.74,658.8 L663.78,658.8 L680.82,658.8 L697.86,658.8 L714.9,658.8 L731.94,658.8 L748.98,658.8 L766.02,658.8 L783.06,658.8 L800.1,658.8 L817.15,658.8 L834.19,658.8 L851.23,658.8 L868.27,658.8 L885.31,658.8 L902.35,658.8 L902.35,915.7 L527.45,915.7 Z" fill="#ffcc99"/>
<path d="M527.45,667.61 L544.49,667.61 L561.53,668.02 L578.57,675.33 L595.61,677.62 L612.65,681.59 L629.7,690.56 L646.74,702.66 L663.78,704.75 L680.82,706.84 L697.86,709.34 L714.9,713.1 L731.94,718.73 L748.98,720.19 L766.02,722.28 L783.06,723.95 L800.1,725.62 L817.15,726.66 L834.19,728.12 L851.23,729.58 L868.27,729.79 L885.31,735.43 L902.35,741.69 L902.35,915.7 L527.45,915.7 Z" fill="#d6b8da"/>
<path d="M527.45,670.32 L544.49,670.53 L561.53,672.2 L578.57,682.84 L595.61,685.76 L612.65,691.19 L629.7,703.08 L646.74,718.11 L663.78,720.82 L680.82,724.37 L697.86,728.54 L714.9,733.34 L731.94,740.02 L748.98,740.22 L766.02,740.64 L783.06,741.27 L800.1,741.89 L817.15,742.73 L834.19,743.36 L851.23,743.77 L868.27,744.4 L885.31,750.66 L902.35,757.34 L902.35,915.7 L527.45,915.7 Z" fill="#b8dfb7"/>
<path d="M527.45,673.24 L544.49,673.45 L561.53,675.54 L578.57,688.47 L595.61,694.73 L612.65,706.21 L629.7,727.08 L646.74,760.47 L663.78,767.77 L680.82,776.12 L697.86,783.42 L714.9,790.31 L731.94,796.98 L748.98,794.9 L766.02,792.81 L783.06,790.72 L800.1,789.05 L817.15,788.64 L834.19,788.22 L851.23,789.05 L868.27,790.72 L885.31,795.94 L902.35,801.57 L902.35,915.7 L527.45,915.7 Z" fill="#afcbe3"/>
<path d="M527.45,865.85 L544.49,853.74 L561.53,846.02 L578.57,854.99 L595.61,859.59 L612.65,863.76 L629.7,870.02 L646.74,877.32 L663.78,878.99 L680.82,880.45 L697.86,881.7 L714.9,882.96 L731.94,884.21 L748.98,883.79 L766.02,883.37 L783.06,882.75 L800.1,882.12 L817.15,882.12 L834.19,882.12 L851.23,882.54 L868.27,882.96 L885.31,884.21 L902.35,886.3 L902.35,915.7 L527.45,915.7 Z" fill="#f4a3a4"/>
<rect x="527.45" y="658.8" width="374.9" height="256.9" fill="none" stroke="#1a1a1a" stroke-width="1.6"/>
<line x1="521.45" y1="915.7" x2="527.45" y2="915.7" stroke="#1a1a1a" stroke-width="1.6"/>
<text x="513.45" y="922.1" font-size="16.5" text-anchor="end">0</text>
<line x1="521.45" y1="864.32" x2="527.45" y2="864.32" stroke="#1a1a1a" stroke-width="1.6"/>
<text x="513.45" y="870.72" font-size="16.5" text-anchor="end">20</text>
<line x1="521.45" y1="812.94" x2="527.45" y2="812.94" stroke="#1a1a1a" stroke-width="1.6"/>
<text x="513.45" y="819.34" font-size="16.5" text-anchor="end">40</text>
<line x1="521.45" y1="761.56" x2="527.45" y2="761.56" stroke="#1a1a1a" stroke-width="1.6"/>
<text x="513.45" y="767.96" font-size="16.5" text-anchor="end">60</text>
<line x1="521.45" y1="710.18" x2="527.45" y2="710.18" stroke="#1a1a1a" stroke-width="1.6"/>
<text x="513.45" y="716.58" font-size="16.5" text-anchor="end">80</text>
<line x1="521.45" y1="658.8" x2="527.45" y2="658.8" stroke="#1a1a1a" stroke-width="1.6"/>
<text x="513.45" y="665.2" font-size="16.5" text-anchor="end">100</text>
<line x1="561.53" y1="915.7" x2="561.53" y2="921.7" stroke="#1a1a1a" stroke-width="1.6"/>
<text x="560.63" y="943.8" font-size="16.5" text-anchor="middle">2020</text>
<line x1="646.74" y1="915.7" x2="646.74" y2="921.7" stroke="#1a1a1a" stroke-width="1.6"/>
<text x="645.84" y="943.8" font-size="16.5" text-anchor="middle">2025</text>
<line x1="731.94" y1="915.7" x2="731.94" y2="921.7" stroke="#1a1a1a" stroke-width="1.6"/>
<text x="731.04" y="943.8" font-size="16.5" text-anchor="middle">2030</text>
<line x1="817.15" y1="915.7" x2="817.15" y2="921.7" stroke="#1a1a1a" stroke-width="1.6"/>
<text x="816.25" y="943.8" font-size="16.5" text-anchor="middle">2035</text>
<line x1="902.35" y1="915.7" x2="902.35" y2="921.7" stroke="#1a1a1a" stroke-width="1.6"/>
<text x="901.45" y="943.8" font-size="16.5" text-anchor="middle">2040</text>
<text x="549.95" y="702.6" font-size="42.5" font-weight="bold">j</text>
<path d="M986,658.8 L1003.04,658.8 L1020.08,658.8 L1037.12,658.8 L1054.16,658.8 L1071.2,658.8 L1088.25,658.8 L1105.29,658.8 L1122.33,658.8 L1139.37,658.8 L1156.41,658.8 L1173.45,658.8 L1190.49,658.8 L1207.53,658.8 L1224.57,658.8 L1241.61,658.8 L1258.65,658.8 L1275.7,658.8 L1292.74,658.8 L1309.78,658.8 L1326.82,658.8 L1343.86,658.8 L1360.9,658.8 L1360.9,915.7 L986,915.7 Z" fill="#ffcc99"/>
<path d="M986,667.61 L1003.04,667.61 L1020.08,668.02 L1037.12,675.12 L1054.16,677.21 L1071.2,681.17 L1088.25,690.98 L1105.29,704.75 L1122.33,707.67 L1139.37,710.38 L1156.41,712.89 L1173.45,716.02 L1190.49,720.82 L1207.53,721.24 L1224.57,722.28 L1241.61,723.53 L1258.65,724.37 L1275.7,725.41 L1292.74,726.04 L1309.78,726.66 L1326.82,728.12 L1343.86,734.8 L1360.9,741.69 L1360.9,915.7 L986,915.7 Z" fill="#d6b8da"/>
<path d="M986,670.32 L1003.04,670.53 L1020.08,671.78 L1037.12,681.17 L1054.16,683.88 L1071.2,688.89 L1088.25,699.33 L1105.29,715.6 L1122.33,720.19 L1139.37,724.99 L1156.41,730.63 L1173.45,737.51 L1190.49,744.19 L1207.53,743.77 L1224.57,743.15 L1241.61,742.52 L1258.65,742.1 L1275.7,742.1 L1292.74,742.1 L1309.78,742.31 L1326.82,743.15 L1343.86,750.03 L1360.9,757.34 L1360.9,915.7 L986,915.7 Z" fill="#b8dfb7"/>
<path d="M986,673.24 L1003.04,673.45 L1020.08,674.91 L1037.12,686.39 L1054.16,690.98 L1071.2,699.33 L1088.25,712.47 L1105.29,730.63 L1122.33,740.64 L1139.37,753.16 L1156.41,766.73 L1173.45,776.12 L1190.49,785.72 L1207.53,785.72 L1224.57,785.72 L1241.61,785.72 L1258.65,785.72 L1275.7,785.92 L1292.74,786.55 L1309.78,788.01 L1326.82,790.1 L1343.86,795.94 L1360.9,801.57 L1360.9,915.7 L986,915.7 Z" fill="#afcbe3"/>
<path d="M986,865.85 L1003.04,853.74 L1020.08,845.4 L1037.12,854.37 L1054.16,858.54 L1071.2,862.3 L1088.25,866.26 L1105.29,870.64 L1122.33,872.73 L1139.37,875.24 L1156.41,877.74 L1173.45,879.83 L1190.49,881.91 L1207.53,881.91 L1224.57,881.91 L1241.61,881.91 L1258.65,881.91 L1275.7,881.91 L1292.74,882.12 L1309.78,882.54 L1326.82,883.17 L1343.86,884.63 L1360.9,886.3 L1360.9,915.7 L986,915.7 Z" fill="#f4a3a4"/>
<rect x="986" y="658.8" width="374.9" height="256.9" fill="none" stroke="#1a1a1a" stroke-width="1.6"/>
<line x1="980" y1="915.7" x2="986" y2="915.7" stroke="#1a1a1a" stroke-width="1.6"/>
<text x="972" y="922.1" font-size="16.5" text-anchor="end">0</text>
<line x1="980" y1="864.32" x2="986" y2="864.32" stroke="#1a1a1a" stroke-width="1.6"/>
<text x="972" y="870.72" font-size="16.5" text-anchor="end">20</text>
<line x1="980" y1="812.94" x2="986" y2="812.94" stroke="#1a1a1a" stroke-width="1.6"/>
<text x="972" y="819.34" font-size="16.5" text-anchor="end">40</text>
<line x1="980" y1="761.56" x2="986" y2="761.56" stroke="#1a1a1a" stroke-width="1.6"/>
<text x="972" y="767.96" font-size="16.5" text-anchor="end">60</text>
<line x1="980" y1="710.18" x2="986" y2="710.18" stroke="#1a1a1a" stroke-width="1.6"/>
<text x="972" y="716.58" font-size="16.5" text-anchor="end">80</text>
<line x1="980" y1="658.8" x2="986" y2="658.8" stroke="#1a1a1a" stroke-width="1.6"/>
<text x="972" y="665.2" font-size="16.5" text-anchor="end">100</text>
<line x1="1020.08" y1="915.7" x2="1020.08" y2="921.7" stroke="#1a1a1a" stroke-width="1.6"/>
<text x="1019.18" y="943.8" font-size="16.5" text-anchor="middle">2020</text>
<line x1="1105.29" y1="915.7" x2="1105.29" y2="921.7" stroke="#1a1a1a" stroke-width="1.6"/>
<text x="1104.39" y="943.8" font-size="16.5" text-anchor="middle">2025</text>
<line x1="1190.49" y1="915.7" x2="1190.49" y2="921.7" stroke="#1a1a1a" stroke-width="1.6"/>
<text x="1189.59" y="943.8" font-size="16.5" text-anchor="middle">2030</text>
<line x1="1275.7" y1="915.7" x2="1275.7" y2="921.7" stroke="#1a1a1a" stroke-width="1.6"/>
<text x="1274.8" y="943.8" font-size="16.5" text-anchor="middle">2035</text>
<line x1="1360.9" y1="915.7" x2="1360.9" y2="921.7" stroke="#1a1a1a" stroke-width="1.6"/>
<text x="1360" y="943.8" font-size="16.5" text-anchor="middle">2040</text>
<text x="1001.4" y="702.7" font-size="42.5" font-weight="bold">k</text>
<path d="M1444.5,658.8 L1461.54,658.8 L1478.58,658.8 L1495.62,658.8 L1512.66,658.8 L1529.7,658.8 L1546.75,658.8 L1563.79,658.8 L1580.83,658.8 L1597.87,658.8 L1614.91,658.8 L1631.95,658.8 L1648.99,658.8 L1666.03,658.8 L1683.07,658.8 L1700.11,658.8 L1717.15,658.8 L1734.2,658.8 L1751.24,658.8 L1768.28,658.8 L1785.32,658.8 L1802.36,658.8 L1819.4,658.8 L1819.4,915.7 L1444.5,915.7 Z" fill="#ffcc99"/>
<path d="M1444.5,667.61 L1461.54,667.61 L1478.58,668.65 L1495.62,679.71 L1512.66,682.21 L1529.7,688.06 L1546.75,701.41 L1563.79,719.36 L1580.83,720.82 L1597.87,722.91 L1614.91,724.99 L1631.95,729.17 L1648.99,734.38 L1666.03,735.01 L1683.07,736.47 L1700.11,738.56 L1717.15,740.64 L1734.2,743.15 L1751.24,744.82 L1768.28,746.49 L1785.32,748.36 L1802.36,750.03 L1819.4,750.03 L1819.4,915.7 L1444.5,915.7 Z" fill="#d6b8da"/>
<path d="M1444.5,670.32 L1461.54,670.74 L1478.58,672.82 L1495.62,685.76 L1512.66,688.89 L1529.7,694.32 L1546.75,706.84 L1563.79,724.99 L1580.83,728.54 L1597.87,733.34 L1614.91,738.14 L1631.95,746.28 L1648.99,755.25 L1666.03,755.88 L1683.07,756.29 L1700.11,757.34 L1717.15,758.38 L1734.2,759.84 L1751.24,761.51 L1768.28,762.97 L1785.32,764.64 L1802.36,766.73 L1819.4,766.73 L1819.4,915.7 L1444.5,915.7 Z" fill="#b8dfb7"/>
<path d="M1444.5,673.24 L1461.54,673.87 L1478.58,675.95 L1495.62,692.65 L1512.66,700.99 L1529.7,714.14 L1546.75,737.51 L1563.79,775.7 L1580.83,790.72 L1597.87,804.29 L1614.91,818.89 L1631.95,830.37 L1648.99,841.22 L1666.03,837.67 L1683.07,834.13 L1700.11,830.37 L1717.15,826.2 L1734.2,822.02 L1751.24,818.89 L1768.28,815.76 L1785.32,813.05 L1802.36,810.55 L1819.4,809.92 L1819.4,915.7 L1444.5,915.7 Z" fill="#afcbe3"/>
<path d="M1444.5,865.85 L1461.54,853.74 L1478.58,846.02 L1495.62,856.04 L1512.66,860.63 L1529.7,865.43 L1546.75,871.69 L1563.79,880.45 L1580.83,883.58 L1597.87,886.71 L1614.91,889.84 L1631.95,892.97 L1648.99,895.69 L1666.03,895.06 L1683.07,894.02 L1700.11,892.97 L1717.15,891.93 L1734.2,890.89 L1751.24,890.26 L1768.28,889.63 L1785.32,889.01 L1802.36,888.38 L1819.4,888.17 L1819.4,915.7 L1444.5,915.7 Z" fill="#f4a3a4"/>
<rect x="1444.5" y="658.8" width="374.9" height="256.9" fill="none" stroke="#1a1a1a" stroke-width="1.6"/>
<line x1="1438.5" y1="915.7" x2="1444.5" y2="915.7" stroke="#1a1a1a" stroke-width="1.6"/>
<text x="1430.5" y="922.1" font-size="16.5" text-anchor="end">0</text>
<line x1="1438.5" y1="864.32" x2="1444.5" y2="864.32" stroke="#1a1a1a" stroke-width="1.6"/>
<text x="1430.5" y="870.72" font-size="16.5" text-anchor="end">20</text>
<line x1="1438.5" y1="812.94" x2="1444.5" y2="812.94" stroke="#1a1a1a" stroke-width="1.6"/>
<text x="1430.5" y="819.34" font-size="16.5" text-anchor="end">40</text>
<line x1="1438.5" y1="761.56" x2="1444.5" y2="761.56" stroke="#1a1a1a" stroke-width="1.6"/>
<text x="1430.5" y="767.96" font-size="16.5" text-anchor="end">60</text>
<line x1="1438.5" y1="710.18" x2="1444.5" y2="710.18" stroke="#1a1a1a" stroke-width="1.6"/>
<text x="1430.5" y="716.58" font-size="16.5" text-anchor="end">80</text>
<line x1="1438.5" y1="658.8" x2="1444.5" y2="658.8" stroke="#1a1a1a" stroke-width="1.6"/>
<text x="1430.5" y="665.2" font-size="16.5" text-anchor="end">100</text>
<line x1="1478.58" y1="915.7" x2="1478.58" y2="921.7" stroke="#1a1a1a" stroke-width="1.6"/>
<text x="1477.68" y="943.8" font-size="16.5" text-anchor="middle">2020</text>
<line x1="1563.79" y1="915.7" x2="1563.79" y2="921.7" stroke="#1a1a1a" stroke-width="1.6"/>
<text x="1562.89" y="943.8" font-size="16.5" text-anchor="middle">2025</text>
<line x1="1648.99" y1="915.7" x2="1648.99" y2="921.7" stroke="#1a1a1a" stroke-width="1.6"/>
<text x="1648.09" y="943.8" font-size="16.5" text-anchor="middle">2030</text>
<line x1="1734.2" y1="915.7" x2="1734.2" y2="921.7" stroke="#1a1a1a" stroke-width="1.6"/>
<text x="1733.3" y="943.8" font-size="16.5" text-anchor="middle">2035</text>
<line x1="1819.4" y1="915.7" x2="1819.4" y2="921.7" stroke="#1a1a1a" stroke-width="1.6"/>
<text x="1818.5" y="943.8" font-size="16.5" text-anchor="middle">2040</text>
<text x="1470.3" y="702.7" font-size="42.5" font-weight="bold">l</text>
<text transform="translate(11.9,787.25) rotate(-90)" font-size="16.5" text-anchor="middle">Market share (%)</text>
<path d="M69,1143.58 L77.52,1139.95 L86.04,1136.28 L94.56,1132.57 L103.08,1128.86 L111.6,1125.16 L120.12,1121.48 L128.64,1117.86 L137.16,1114.29 L145.68,1110.8 L154.2,1107.41 L162.72,1104.12 L171.25,1100.95 L179.77,1097.92 L188.29,1095.02 L196.81,1092.25 L205.33,1089.61 L213.85,1087.07 L222.37,1084.65 L230.89,1082.33 L239.41,1080.12 L247.93,1077.99 L256.45,1075.95 L264.97,1074 L273.49,1072.13 L282.01,1070.34 L290.53,1068.62 L299.05,1066.99 L307.57,1065.44 L316.09,1063.96 L324.61,1062.55 L333.13,1061.23 L341.65,1059.97 L350.17,1058.79 L358.7,1057.68 L367.22,1056.64 L375.74,1055.68 L384.26,1054.78 L392.78,1053.95 L401.3,1053.18 L409.82,1052.49 L418.34,1051.85 L426.86,1051.29 L435.38,1050.78 L443.9,1050.34 L443.9,1232.3 L69,1232.3 Z" fill="#b8dfb7"/>
<path d="M69,1144.64 L77.52,1141.14 L86.04,1137.59 L94.56,1134.02 L103.08,1130.46 L111.6,1126.94 L120.12,1123.5 L128.64,1120.17 L137.16,1116.97 L145.68,1113.93 L154.2,1111.08 L162.72,1108.43 L171.25,1106.01 L179.77,1103.84 L188.29,1101.91 L196.81,1100.2 L205.33,1098.69 L213.85,1097.36 L222.37,1096.21 L230.89,1095.19 L239.41,1094.31 L247.93,1093.54 L256.45,1092.87 L264.97,1092.27 L273.49,1091.75 L282.01,1091.3 L290.53,1090.93 L299.05,1090.61 L307.57,1090.37 L316.09,1090.18 L324.61,1090.06 L333.13,1090 L341.65,1089.99 L350.17,1090.04 L358.7,1090.13 L367.22,1090.28 L375.74,1090.48 L384.26,1090.72 L392.78,1091 L401.3,1091.32 L409.82,1091.68 L418.34,1092.08 L426.86,1092.51 L435.38,1092.97 L443.9,1093.46 L443.9,1232.3 L69,1232.3 Z" fill="#afcbe3"/>
<path d="M69,1145.04 L77.52,1141.62 L86.04,1138.12 L94.56,1134.57 L103.08,1131.03 L111.6,1127.53 L120.12,1124.11 L128.64,1120.81 L137.16,1117.66 L145.68,1114.7 L154.2,1111.96 L162.72,1109.47 L171.25,1107.25 L179.77,1105.34 L188.29,1103.72 L196.81,1102.37 L205.33,1101.25 L213.85,1100.36 L222.37,1099.67 L230.89,1099.14 L239.41,1098.77 L247.93,1098.53 L256.45,1098.39 L264.97,1098.34 L273.49,1098.36 L282.01,1098.46 L290.53,1098.61 L299.05,1098.83 L307.57,1099.1 L316.09,1099.42 L324.61,1099.78 L333.13,1100.17 L341.65,1100.59 L350.17,1101.04 L358.7,1101.51 L367.22,1101.99 L375.74,1102.48 L384.26,1102.97 L392.78,1103.46 L401.3,1103.94 L409.82,1104.4 L418.34,1104.84 L426.86,1105.26 L435.38,1105.64 L443.9,1105.98 L443.9,1232.3 L69,1232.3 Z" fill="#f4a3a4"/>
<rect x="69" y="975.4" width="374.9" height="256.9" fill="none" stroke="#1a1a1a" stroke-width="1.6"/>
<line x1="63" y1="1232.3" x2="69" y2="1232.3" stroke="#1a1a1a" stroke-width="1.6"/>
<text x="55" y="1238.7" font-size="16.5" text-anchor="end">0</text>
<line x1="63" y1="1189.48" x2="69" y2="1189.48" stroke="#1a1a1a" stroke-width="1.6"/>
<text x="55" y="1195.88" font-size="16.5" text-anchor="end">100</text>
<line x1="63" y1="1146.67" x2="69" y2="1146.67" stroke="#1a1a1a" stroke-width="1.6"/>
<text x="55" y="1153.07" font-size="16.5" text-anchor="end">200</text>
<line x1="63" y1="1103.85" x2="69" y2="1103.85" stroke="#1a1a1a" stroke-width="1.6"/>
<text x="55" y="1110.25" font-size="16.5" text-anchor="end">300</text>
<line x1="63" y1="1061.03" x2="69" y2="1061.03" stroke="#1a1a1a" stroke-width="1.6"/>
<text x="55" y="1067.43" font-size="16.5" text-anchor="end">400</text>
<line x1="63" y1="1018.22" x2="69" y2="1018.22" stroke="#1a1a1a" stroke-width="1.6"/>
<text x="55" y="1024.62" font-size="16.5" text-anchor="end">500</text>
<line x1="63" y1="975.4" x2="69" y2="975.4" stroke="#1a1a1a" stroke-width="1.6"/>
<text x="55" y="981.8" font-size="16.5" text-anchor="end">600</text>
<line x1="103.08" y1="1232.3" x2="103.08" y2="1238.3" stroke="#1a1a1a" stroke-width="1.6"/>
<text x="102.18" y="1259.8" font-size="16.5" text-anchor="middle">2020</text>
<line x1="188.29" y1="1232.3" x2="188.29" y2="1238.3" stroke="#1a1a1a" stroke-width="1.6"/>
<text x="187.39" y="1259.8" font-size="16.5" text-anchor="middle">2025</text>
<line x1="273.49" y1="1232.3" x2="273.49" y2="1238.3" stroke="#1a1a1a" stroke-width="1.6"/>
<text x="272.59" y="1259.8" font-size="16.5" text-anchor="middle">2030</text>
<line x1="358.7" y1="1232.3" x2="358.7" y2="1238.3" stroke="#1a1a1a" stroke-width="1.6"/>
<text x="357.8" y="1259.8" font-size="16.5" text-anchor="middle">2035</text>
<line x1="443.9" y1="1232.3" x2="443.9" y2="1238.3" stroke="#1a1a1a" stroke-width="1.6"/>
<text x="443" y="1259.8" font-size="16.5" text-anchor="middle">2040</text>
<text x="80.5" y="1010" font-size="42.5" font-weight="bold">m</text>
<path d="M527.45,1143.58 L535.97,1139.95 L544.49,1136.28 L553.01,1132.57 L561.53,1128.86 L570.05,1125.16 L578.57,1121.48 L587.09,1117.86 L595.61,1114.29 L604.13,1110.8 L612.65,1107.41 L621.18,1104.12 L629.7,1100.95 L638.22,1097.92 L646.74,1095.02 L655.26,1092.25 L663.78,1089.61 L672.3,1087.07 L680.82,1084.65 L689.34,1082.33 L697.86,1080.12 L706.38,1077.99 L714.9,1075.95 L723.42,1074 L731.94,1072.13 L740.46,1070.34 L748.98,1068.62 L757.5,1066.99 L766.02,1065.44 L774.54,1063.96 L783.06,1062.55 L791.58,1061.23 L800.1,1059.97 L808.62,1058.79 L817.15,1057.68 L825.67,1056.64 L834.19,1055.68 L842.71,1054.78 L851.23,1053.95 L859.75,1053.18 L868.27,1052.49 L876.79,1051.85 L885.31,1051.29 L893.83,1050.78 L902.35,1050.34 L902.35,1232.3 L527.45,1232.3 Z" fill="#b8dfb7"/>
<path d="M527.45,1144.76 L535.97,1141.24 L544.49,1137.7 L553.01,1134.17 L561.53,1130.67 L570.05,1127.23 L578.57,1123.87 L587.09,1120.63 L595.61,1117.51 L604.13,1114.55 L612.65,1111.77 L621.18,1109.17 L629.7,1106.78 L638.22,1104.62 L646.74,1102.67 L655.26,1100.93 L663.78,1099.37 L672.3,1098 L680.82,1096.78 L689.34,1095.72 L697.86,1094.79 L706.38,1093.98 L714.9,1093.29 L723.42,1092.69 L731.94,1092.19 L740.46,1091.77 L748.98,1091.43 L757.5,1091.18 L766.02,1091 L774.54,1090.89 L783.06,1090.84 L791.58,1090.86 L800.1,1090.93 L808.62,1091.05 L817.15,1091.22 L825.67,1091.44 L834.19,1091.7 L842.71,1091.99 L851.23,1092.31 L859.75,1092.65 L868.27,1093.02 L876.79,1093.41 L885.31,1093.8 L893.83,1094.21 L902.35,1094.62 L902.35,1232.3 L527.45,1232.3 Z" fill="#afcbe3"/>
<path d="M527.45,1145.29 L535.97,1141.81 L544.49,1138.27 L553.01,1134.7 L561.53,1131.16 L570.05,1127.66 L578.57,1124.27 L587.09,1121.01 L595.61,1117.92 L604.13,1115.02 L612.65,1112.35 L621.18,1109.93 L629.7,1107.79 L638.22,1105.97 L646.74,1104.43 L655.26,1103.16 L663.78,1102.13 L672.3,1101.33 L680.82,1100.72 L689.34,1100.28 L697.86,1100 L706.38,1099.84 L714.9,1099.79 L723.42,1099.82 L731.94,1099.92 L740.46,1100.09 L748.98,1100.32 L757.5,1100.61 L766.02,1100.93 L774.54,1101.3 L783.06,1101.7 L791.58,1102.13 L800.1,1102.57 L808.62,1103.03 L817.15,1103.49 L825.67,1103.95 L834.19,1104.41 L842.71,1104.84 L851.23,1105.26 L859.75,1105.64 L868.27,1105.99 L876.79,1106.3 L885.31,1106.56 L893.83,1106.76 L902.35,1106.9 L902.35,1232.3 L527.45,1232.3 Z" fill="#f4a3a4"/>
<rect x="527.45" y="975.4" width="374.9" height="256.9" fill="none" stroke="#1a1a1a" stroke-width="1.6"/>
<line x1="521.45" y1="1232.3" x2="527.45" y2="1232.3" stroke="#1a1a1a" stroke-width="1.6"/>
<text x="513.45" y="1238.7" font-size="16.5" text-anchor="end">0</text>
<line x1="521.45" y1="1189.48" x2="527.45" y2="1189.48" stroke="#1a1a1a" stroke-width="1.6"/>
<text x="513.45" y="1195.88" font-size="16.5" text-anchor="end">100</text>
<line x1="521.45" y1="1146.67" x2="527.45" y2="1146.67" stroke="#1a1a1a" stroke-width="1.6"/>
<text x="513.45" y="1153.07" font-size="16.5" text-anchor="end">200</text>
<line x1="521.45" y1="1103.85" x2="527.45" y2="1103.85" stroke="#1a1a1a" stroke-width="1.6"/>
<text x="513.45" y="1110.25" font-size="16.5" text-anchor="end">300</text>
<line x1="521.45" y1="1061.03" x2="527.45" y2="1061.03" stroke="#1a1a1a" stroke-width="1.6"/>
<text x="513.45" y="1067.43" font-size="16.5" text-anchor="end">400</text>
<line x1="521.45" y1="1018.22" x2="527.45" y2="1018.22" stroke="#1a1a1a" stroke-width="1.6"/>
<text x="513.45" y="1024.62" font-size="16.5" text-anchor="end">500</text>
<line x1="521.45" y1="975.4" x2="527.45" y2="975.4" stroke="#1a1a1a" stroke-width="1.6"/>
<text x="513.45" y="981.8" font-size="16.5" text-anchor="end">600</text>
<line x1="561.53" y1="1232.3" x2="561.53" y2="1238.3" stroke="#1a1a1a" stroke-width="1.6"/>
<text x="560.63" y="1259.8" font-size="16.5" text-anchor="middle">2020</text>
<line x1="646.74" y1="1232.3" x2="646.74" y2="1238.3" stroke="#1a1a1a" stroke-width="1.6"/>
<text x="645.84" y="1259.8" font-size="16.5" text-anchor="middle">2025</text>
<line x1="731.94" y1="1232.3" x2="731.94" y2="1238.3" stroke="#1a1a1a" stroke-width="1.6"/>
<text x="731.04" y="1259.8" font-size="16.5" text-anchor="middle">2030</text>
<line x1="817.15" y1="1232.3" x2="817.15" y2="1238.3" stroke="#1a1a1a" stroke-width="1.6"/>
<text x="816.25" y="1259.8" font-size="16.5" text-anchor="middle">2035</text>
<line x1="902.35" y1="1232.3" x2="902.35" y2="1238.3" stroke="#1a1a1a" stroke-width="1.6"/>
<text x="901.45" y="1259.8" font-size="16.5" text-anchor="middle">2040</text>
<text x="538.95" y="1010" font-size="42.5" font-weight="bold">n</text>
<path d="M986,1143.58 L994.52,1139.95 L1003.04,1136.28 L1011.56,1132.57 L1020.08,1128.86 L1028.6,1125.16 L1037.12,1121.48 L1045.64,1117.86 L1054.16,1114.29 L1062.68,1110.8 L1071.2,1107.41 L1079.72,1104.12 L1088.25,1100.95 L1096.77,1097.92 L1105.29,1095.02 L1113.81,1092.25 L1122.33,1089.61 L1130.85,1087.07 L1139.37,1084.65 L1147.89,1082.33 L1156.41,1080.12 L1164.93,1077.99 L1173.45,1075.95 L1181.97,1074 L1190.49,1072.13 L1199.01,1070.34 L1207.53,1068.62 L1216.05,1066.99 L1224.57,1065.44 L1233.09,1063.96 L1241.61,1062.55 L1250.13,1061.23 L1258.65,1059.97 L1267.17,1058.79 L1275.7,1057.68 L1284.22,1056.64 L1292.74,1055.68 L1301.26,1054.78 L1309.78,1053.95 L1318.3,1053.18 L1326.82,1052.49 L1335.34,1051.85 L1343.86,1051.29 L1352.38,1050.78 L1360.9,1050.34 L1360.9,1232.3 L986,1232.3 Z" fill="#b8dfb7"/>
<path d="M986,1144.82 L994.52,1141.37 L1003.04,1137.85 L1011.56,1134.3 L1020.08,1130.75 L1028.6,1127.23 L1037.12,1123.79 L1045.64,1120.46 L1054.16,1117.27 L1062.68,1114.23 L1071.2,1111.39 L1079.72,1108.76 L1088.25,1106.37 L1096.77,1104.24 L1105.29,1102.36 L1113.81,1100.7 L1122.33,1099.26 L1130.85,1098.01 L1139.37,1096.92 L1147.89,1095.99 L1156.41,1095.19 L1164.93,1094.51 L1173.45,1093.91 L1181.97,1093.4 L1190.49,1092.96 L1199.01,1092.59 L1207.53,1092.29 L1216.05,1092.04 L1224.57,1091.86 L1233.09,1091.74 L1241.61,1091.66 L1250.13,1091.64 L1258.65,1091.67 L1267.17,1091.74 L1275.7,1091.85 L1284.22,1092 L1292.74,1092.19 L1301.26,1092.4 L1309.78,1092.65 L1318.3,1092.92 L1326.82,1093.21 L1335.34,1093.53 L1343.86,1093.85 L1352.38,1094.2 L1360.9,1094.55 L1360.9,1232.3 L986,1232.3 Z" fill="#afcbe3"/>
<path d="M986,1145.07 L994.52,1141.76 L1003.04,1138.35 L1011.56,1134.87 L1020.08,1131.36 L1028.6,1127.88 L1037.12,1124.45 L1045.64,1121.11 L1054.16,1117.92 L1062.68,1114.91 L1071.2,1112.13 L1079.72,1109.6 L1088.25,1107.38 L1096.77,1105.5 L1105.29,1103.93 L1113.81,1102.66 L1122.33,1101.65 L1130.85,1100.87 L1139.37,1100.3 L1147.89,1099.91 L1156.41,1099.66 L1164.93,1099.55 L1173.45,1099.52 L1181.97,1099.57 L1190.49,1099.68 L1199.01,1099.85 L1207.53,1100.06 L1216.05,1100.33 L1224.57,1100.64 L1233.09,1100.98 L1241.61,1101.36 L1250.13,1101.76 L1258.65,1102.19 L1267.17,1102.64 L1275.7,1103.1 L1284.22,1103.56 L1292.74,1104.03 L1301.26,1104.5 L1309.78,1104.96 L1318.3,1105.41 L1326.82,1105.84 L1335.34,1106.25 L1343.86,1106.64 L1352.38,1106.99 L1360.9,1107.3 L1360.9,1232.3 L986,1232.3 Z" fill="#f4a3a4"/>
<rect x="986" y="975.4" width="374.9" height="256.9" fill="none" stroke="#1a1a1a" stroke-width="1.6"/>
<line x1="980" y1="1232.3" x2="986" y2="1232.3" stroke="#1a1a1a" stroke-width="1.6"/>
<text x="972" y="1238.7" font-size="16.5" text-anchor="end">0</text>
<line x1="980" y1="1189.48" x2="986" y2="1189.48" stroke="#1a1a1a" stroke-width="1.6"/>
<text x="972" y="1195.88" font-size="16.5" text-anchor="end">100</text>
<line x1="980" y1="1146.67" x2="986" y2="1146.67" stroke="#1a1a1a" stroke-width="1.6"/>
<text x="972" y="1153.07" font-size="16.5" text-anchor="end">200</text>
<line x1="980" y1="1103.85" x2="986" y2="1103.85" stroke="#1a1a1a" stroke-width="1.6"/>
<text x="972" y="1110.25" font-size="16.5" text-anchor="end">300</text>
<line x1="980" y1="1061.03" x2="986" y2="1061.03" stroke="#1a1a1a" stroke-width="1.6"/>
<text x="972" y="1067.43" font-size="16.5" text-anchor="end">400</text>
<line x1="980" y1="1018.22" x2="986" y2="1018.22" stroke="#1a1a1a" stroke-width="1.6"/>
<text x="972" y="1024.62" font-size="16.5" text-anchor="end">500</text>
<line x1="980" y1="975.4" x2="986" y2="975.4" stroke="#1a1a1a" stroke-width="1.6"/>
<text x="972" y="981.8" font-size="16.5" text-anchor="end">600</text>
<line x1="1020.08" y1="1232.3" x2="1020.08" y2="1238.3" stroke="#1a1a1a" stroke-width="1.6"/>
<text x="1019.18" y="1259.8" font-size="16.5" text-anchor="middle">2020</text>
<line x1="1105.29" y1="1232.3" x2="1105.29" y2="1238.3" stroke="#1a1a1a" stroke-width="1.6"/>
<text x="1104.39" y="1259.8" font-size="16.5" text-anchor="middle">2025</text>
<line x1="1190.49" y1="1232.3" x2="1190.49" y2="1238.3" stroke="#1a1a1a" stroke-width="1.6"/>
<text x="1189.59" y="1259.8" font-size="16.5" text-anchor="middle">2030</text>
<line x1="1275.7" y1="1232.3" x2="1275.7" y2="1238.3" stroke="#1a1a1a" stroke-width="1.6"/>
<text x="1274.8" y="1259.8" font-size="16.5" text-anchor="middle">2035</text>
<line x1="1360.9" y1="1232.3" x2="1360.9" y2="1238.3" stroke="#1a1a1a" stroke-width="1.6"/>
<text x="1360" y="1259.8" font-size="16.5" text-anchor="middle">2040</text>
<text x="1003.9" y="1010.3" font-size="42.5" font-weight="bold">o</text>
<path d="M1444.5,1143.58 L1453.02,1139.95 L1461.54,1136.28 L1470.06,1132.57 L1478.58,1128.86 L1487.1,1125.16 L1495.62,1121.48 L1504.14,1117.86 L1512.66,1114.29 L1521.18,1110.8 L1529.7,1107.41 L1538.22,1104.12 L1546.75,1100.95 L1555.27,1097.92 L1563.79,1095.02 L1572.31,1092.25 L1580.83,1089.61 L1589.35,1087.07 L1597.87,1084.65 L1606.39,1082.33 L1614.91,1080.12 L1623.43,1077.99 L1631.95,1075.95 L1640.47,1074 L1648.99,1072.13 L1657.51,1070.34 L1666.03,1068.62 L1674.55,1066.99 L1683.07,1065.44 L1691.59,1063.96 L1700.11,1062.55 L1708.63,1061.23 L1717.15,1059.97 L1725.67,1058.79 L1734.2,1057.68 L1742.72,1056.64 L1751.24,1055.68 L1759.76,1054.78 L1768.28,1053.95 L1776.8,1053.18 L1785.32,1052.49 L1793.84,1051.85 L1802.36,1051.29 L1810.88,1050.78 L1819.4,1050.34 L1819.4,1232.3 L1444.5,1232.3 Z" fill="#b8dfb7"/>
<path d="M1444.5,1144.78 L1453.02,1141.34 L1461.54,1137.83 L1470.06,1134.29 L1478.58,1130.77 L1487.1,1127.3 L1495.62,1123.93 L1504.14,1120.69 L1512.66,1117.61 L1521.18,1114.73 L1529.7,1112.06 L1538.22,1109.64 L1546.75,1107.48 L1555.27,1105.62 L1563.79,1104.04 L1572.31,1102.71 L1580.83,1101.61 L1589.35,1100.72 L1597.87,1100.01 L1606.39,1099.47 L1614.91,1099.06 L1623.43,1098.78 L1631.95,1098.59 L1640.47,1098.47 L1648.99,1098.42 L1657.51,1098.44 L1666.03,1098.52 L1674.55,1098.65 L1683.07,1098.84 L1691.59,1099.07 L1700.11,1099.34 L1708.63,1099.66 L1717.15,1100.01 L1725.67,1100.39 L1734.2,1100.8 L1742.72,1101.23 L1751.24,1101.67 L1759.76,1102.14 L1768.28,1102.61 L1776.8,1103.09 L1785.32,1103.57 L1793.84,1104.05 L1802.36,1104.52 L1810.88,1104.98 L1819.4,1105.43 L1819.4,1232.3 L1444.5,1232.3 Z" fill="#afcbe3"/>
<path d="M1444.5,1145.14 L1453.02,1141.76 L1461.54,1138.28 L1470.06,1134.76 L1478.58,1131.24 L1487.1,1127.78 L1495.62,1124.4 L1504.14,1121.16 L1512.66,1118.1 L1521.18,1115.25 L1529.7,1112.63 L1538.22,1110.3 L1546.75,1108.27 L1555.27,1106.59 L1563.79,1105.22 L1572.31,1104.15 L1580.83,1103.34 L1589.35,1102.78 L1597.87,1102.44 L1606.39,1102.29 L1614.91,1102.3 L1623.43,1102.46 L1631.95,1102.73 L1640.47,1103.1 L1648.99,1103.54 L1657.51,1104.06 L1666.03,1104.65 L1674.55,1105.3 L1683.07,1105.99 L1691.59,1106.73 L1700.11,1107.51 L1708.63,1108.31 L1717.15,1109.14 L1725.67,1109.98 L1734.2,1110.82 L1742.72,1111.66 L1751.24,1112.49 L1759.76,1113.3 L1768.28,1114.08 L1776.8,1114.83 L1785.32,1115.55 L1793.84,1116.21 L1802.36,1116.81 L1810.88,1117.36 L1819.4,1117.83 L1819.4,1232.3 L1444.5,1232.3 Z" fill="#f4a3a4"/>
<rect x="1444.5" y="975.4" width="374.9" height="256.9" fill="none" stroke="#1a1a1a" stroke-width="1.6"/>
<line x1="1438.5" y1="1232.3" x2="1444.5" y2="1232.3" stroke="#1a1a1a" stroke-width="1.6"/>
<text x="1430.5" y="1238.7" font-size="16.5" text-anchor="end">0</text>
<line x1="1438.5" y1="1189.48" x2="1444.5" y2="1189.48" stroke="#1a1a1a" stroke-width="1.6"/>
<text x="1430.5" y="1195.88" font-size="16.5" text-anchor="end">100</text>
<line x1="1438.5" y1="1146.67" x2="1444.5" y2="1146.67" stroke="#1a1a1a" stroke-width="1.6"/>
<text x="1430.5" y="1153.07" font-size="16.5" text-anchor="end">200</text>
<line x1="1438.5" y1="1103.85" x2="1444.5" y2="1103.85" stroke="#1a1a1a" stroke-width="1.6"/>
<text x="1430.5" y="1110.25" font-size="16.5" text-anchor="end">300</text>
<line x1="1438.5" y1="1061.03" x2="1444.5" y2="1061.03" stroke="#1a1a1a" stroke-width="1.6"/>
<text x="1430.5" y="1067.43" font-size="16.5" text-anchor="end">400</text>
<line x1="1438.5" y1="1018.22" x2="1444.5" y2="1018.22" stroke="#1a1a1a" stroke-width="1.6"/>
<text x="1430.5" y="1024.62" font-size="16.5" text-anchor="end">500</text>
<line x1="1438.5" y1="975.4" x2="1444.5" y2="975.4" stroke="#1a1a1a" stroke-width="1.6"/>
<text x="1430.5" y="981.8" font-size="16.5" text-anchor="end">600</text>
<line x1="1478.58" y1="1232.3" x2="1478.58" y2="1238.3" stroke="#1a1a1a" stroke-width="1.6"/>
<text x="1477.68" y="1259.8" font-size="16.5" text-anchor="middle">2020</text>
<line x1="1563.79" y1="1232.3" x2="1563.79" y2="1238.3" stroke="#1a1a1a" stroke-width="1.6"/>
<text x="1562.89" y="1259.8" font-size="16.5" text-anchor="middle">2025</text>
<line x1="1648.99" y1="1232.3" x2="1648.99" y2="1238.3" stroke="#1a1a1a" stroke-width="1.6"/>
<text x="1648.09" y="1259.8" font-size="16.5" text-anchor="middle">2030</text>
<line x1="1734.2" y1="1232.3" x2="1734.2" y2="1238.3" stroke="#1a1a1a" stroke-width="1.6"/>
<text x="1733.3" y="1259.8" font-size="16.5" text-anchor="middle">2035</text>
<line x1="1819.4" y1="1232.3" x2="1819.4" y2="1238.3" stroke="#1a1a1a" stroke-width="1.6"/>
<text x="1818.5" y="1259.8" font-size="16.5" text-anchor="middle">2040</text>
<text x="1459.9" y="1009.2" font-size="42.5" font-weight="bold">p</text>
<text transform="translate(11.9,1103.85) rotate(-90)" font-size="16.5" text-anchor="middle">Car stock (million)</text>
<text x="264.05" y="15.8" font-size="20.7" text-anchor="middle">DC-Reference</text>
<text x="272.69" y="1282.6" font-size="16.5" text-anchor="middle">Year</text>
<text x="718.6" y="15.8" font-size="20.7" text-anchor="middle">PT-CAFC</text>
<text x="731.14" y="1282.6" font-size="16.5" text-anchor="middle">Year</text>
<text x="1174" y="15.8" font-size="20.7" text-anchor="middle">PT-M1.0</text>
<text x="1189.69" y="1282.6" font-size="16.5" text-anchor="middle">Year</text>
<text x="1632.5" y="15.8" font-size="20.7" text-anchor="middle">PT-BEVFC</text>
<text x="1648.19" y="1282.6" font-size="16.5" text-anchor="middle">Year</text>
<text x="103.2" y="547.8" font-size="16.5">Cumulative electricity: 234</text>
<text x="103.2" y="573" font-size="16.5">Cummulative gasoline: 3630</text>
<text x="561.65" y="547.8" font-size="16.5">Cumulative electricity: 243</text>
<text x="561.65" y="573" font-size="16.5">Cummulative gasoline: 3571</text>
<text x="1020.2" y="547.8" font-size="16.5">Cumulative electricity: 243</text>
<text x="1020.2" y="573" font-size="16.5">Cummulative gasoline: 3632</text>
<text x="1478.7" y="547.8" font-size="16.5">Cumulative electricity: 287</text>
<text x="1478.7" y="573" font-size="16.5">Cummulative gasoline: 3343</text>
<rect x="1831" y="111.5" width="104.3" height="78.2" rx="3" ry="3" fill="#fff" stroke="#000" stroke-width="1.6"/>
<rect x="1836.8" y="119.1" width="33.5" height="11.7" fill="#008000"/>
<text x="1880" y="130.8" font-size="16.5">BEV</text>
<rect x="1836.8" y="143.6" width="33.5" height="11.7" fill="#0000ff"/>
<text x="1880" y="155.3" font-size="16.5">PHEV</text>
<rect x="1836.8" y="168.1" width="33.5" height="11.7" fill="#bfbf00"/>
<text x="1880" y="179.8" font-size="16.5">ICEV</text>
<rect x="1829.8" y="428" width="143.2" height="53.7" rx="3" ry="3" fill="#fff" stroke="#000" stroke-width="1.6"/>
<rect x="1836.8" y="435.6" width="33.5" height="11.7" fill="#0000ff"/>
<text x="1880" y="447.3" font-size="16.5">Electricity</text>
<rect x="1836.8" y="460.1" width="33.5" height="11.7" fill="#bfbf00"/>
<text x="1880" y="471.8" font-size="16.5">Gasoline</text>
<rect x="1830.6" y="744.6" width="168" height="127" rx="3" ry="3" fill="#fff" stroke="#000" stroke-width="1.6"/>
<rect x="1836.8" y="752.3" width="33.5" height="11.7" fill="#ff7f00"/>
<text x="1880" y="764" font-size="16.5">BEV</text>
<rect x="1836.8" y="776.8" width="33.5" height="11.7" fill="#984ea3"/>
<text x="1880" y="788.5" font-size="16.5">PHEV</text>
<rect x="1836.8" y="801.3" width="33.5" height="11.7" fill="#4daf4a"/>
<text x="1880" y="813" font-size="16.5">ICEV Low FC</text>
<rect x="1836.8" y="825.8" width="33.5" height="11.7" fill="#377eb8"/>
<text x="1880" y="837.5" font-size="16.5">ICEV Avg FC</text>
<rect x="1836.8" y="850.3" width="33.5" height="11.7" fill="#e41a1c"/>
<text x="1880" y="862" font-size="16.5">ICEV High FC</text>
<rect x="1831" y="1061.2" width="104.3" height="78" rx="3" ry="3" fill="#fff" stroke="#000" stroke-width="1.6"/>
<rect x="1836.8" y="1068.8" width="33.5" height="11.7" fill="#4daf4a"/>
<text x="1880" y="1080.5" font-size="16.5">BEV</text>
<rect x="1836.8" y="1093.3" width="33.5" height="11.7" fill="#377eb8"/>
<text x="1880" y="1105" font-size="16.5">PHEV</text>
<rect x="1836.8" y="1117.8" width="33.5" height="11.7" fill="#e41a1c"/>
<text x="1880" y="1129.5" font-size="16.5">ICEV</text>
</svg></body></html>
